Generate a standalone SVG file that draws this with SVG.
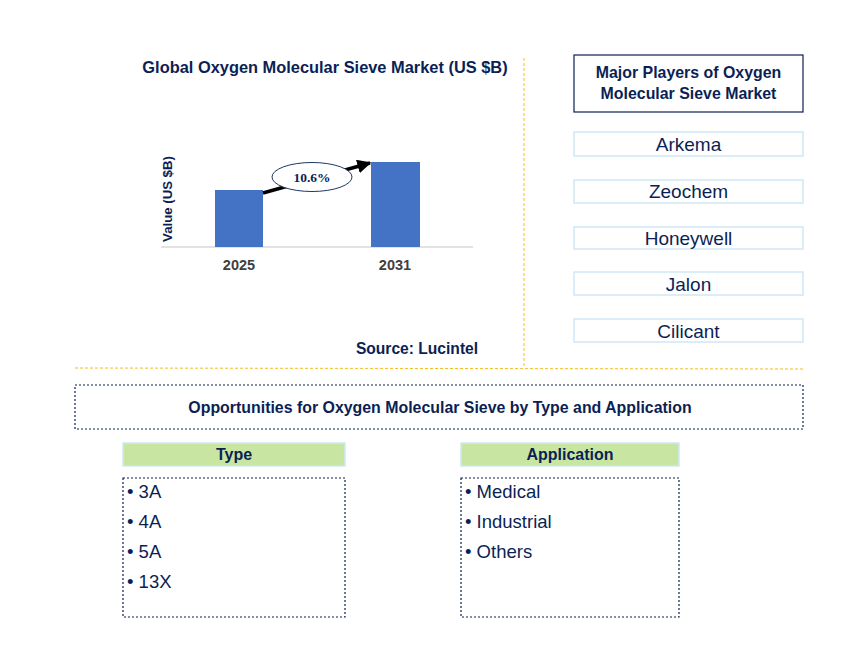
<svg xmlns="http://www.w3.org/2000/svg" width="868" height="658" viewBox="0 0 868 658">
<style>
text{font-family:"Liberation Sans",Arial,sans-serif;fill:#0c1f55}
.b{font-weight:bold}
.player{fill:#fff;stroke:#cfe8f6;stroke-width:1.5}
.pt{font-size:19px;text-anchor:middle}
.hdr{fill:#c8e6a2;stroke:#cfe8f6;stroke-width:1.5}
.list{fill:#fff;stroke:#0c1f55;stroke-width:1.2;stroke-dasharray:2,2}
.li{font-size:18.5px}
.sep{stroke:#f5bd1f;stroke-width:1;stroke-dasharray:3,2;fill:none}
.bar{fill:#4472c4}
</style>
<defs>
<marker id="ah" viewBox="0 0 10 10" refX="9" refY="5" markerWidth="4" markerHeight="4" orient="auto">
<path d="M0,0 L10,5 L0,10 z" fill="#000"/>
</marker>
</defs>
<rect width="868" height="658" fill="#fff"/>
<g id="separators">
<line class="sep" x1="524" y1="58" x2="524" y2="368"/>
<line class="sep" x1="75" y1="368" x2="803" y2="369"/>
</g>
<g id="chart">
<text class="b" x="325" y="73" font-size="16.4" text-anchor="middle">Global Oxygen Molecular Sieve Market (US $B)</text>
<text class="b" x="0" y="0" font-size="13.2" text-anchor="middle" transform="translate(172,199) rotate(-90)">Value (US $B)</text>
<line x1="161" y1="247" x2="473" y2="247" stroke="#d9d9d9" stroke-width="1.5"/>
<rect class="bar" x="215" y="190" width="48" height="57"/>
<rect class="bar" x="371" y="162" width="49" height="85"/>
<text class="b" x="239" y="270" font-size="14.5" text-anchor="middle" style="fill:#404040">2025</text>
<text class="b" x="395" y="270" font-size="14.5" text-anchor="middle" style="fill:#404040">2031</text>
<text class="b" x="417" y="354" font-size="15.6" text-anchor="middle">Source: Lucintel</text>
</g>
<g id="connectors">
<line x1="263" y1="193" x2="370" y2="163" stroke="#000" stroke-width="3.5" marker-end="url(#ah)"/>
</g>
<g id="cagr">
<ellipse cx="312" cy="177" rx="40" ry="14.5" fill="#fff" stroke="#1f3864" stroke-width="1"/>
<text class="b" x="312" y="182" font-size="13.5" text-anchor="middle" style="font-family:'Liberation Serif','Times New Roman',serif">10.6%</text>
</g>
<g id="players-title">
<rect x="574" y="55" width="229" height="57" fill="#fff" stroke="#0c1f55" stroke-width="1.2"/>
<text class="b" x="688.5" y="78" font-size="15.9" text-anchor="middle">Major Players of Oxygen</text>
<text class="b" x="688.5" y="99" font-size="15.9" text-anchor="middle">Molecular Sieve Market</text>
</g>
<g id="player-arkema"><rect class="player" x="574" y="132" width="229" height="24"/><text class="pt" x="688.5" y="151">Arkema</text></g>
<g id="player-zeochem"><rect class="player" x="574" y="180" width="229" height="23"/><text class="pt" x="688.5" y="198">Zeochem</text></g>
<g id="player-honeywell"><rect class="player" x="574" y="227" width="229" height="22"/><text class="pt" x="688.5" y="245">Honeywell</text></g>
<g id="player-jalon"><rect class="player" x="574" y="272" width="229" height="23"/><text class="pt" x="688.5" y="291">Jalon</text></g>
<g id="player-cilicant"><rect class="player" x="574" y="319" width="229" height="23"/><text class="pt" x="688.5" y="338">Cilicant</text></g>
<g id="opportunities">
<rect class="list" x="75" y="385" width="728" height="44"/>
<text class="b" x="440" y="413" font-size="15.9" text-anchor="middle">Opportunities for Oxygen Molecular Sieve by Type and Application</text>
</g>
<g id="type">
<rect class="hdr" x="123" y="443" width="222" height="23"/>
<text class="b" x="234" y="460" font-size="16" text-anchor="middle">Type</text>
<rect class="list" x="123" y="478" width="222" height="139"/>
<text class="li" x="127" y="498">• 3A</text>
<text class="li" x="127" y="528">• 4A</text>
<text class="li" x="127" y="558">• 5A</text>
<text class="li" x="127" y="588">• 13X</text>
</g>
<g id="application">
<rect class="hdr" x="461" y="443" width="218" height="23"/>
<text class="b" x="570" y="460" font-size="16" text-anchor="middle">Application</text>
<rect class="list" x="461" y="478" width="218" height="139"/>
<text class="li" x="465" y="498">• Medical</text>
<text class="li" x="465" y="528">• Industrial</text>
<text class="li" x="465" y="558">• Others</text>
</g>
</svg>
